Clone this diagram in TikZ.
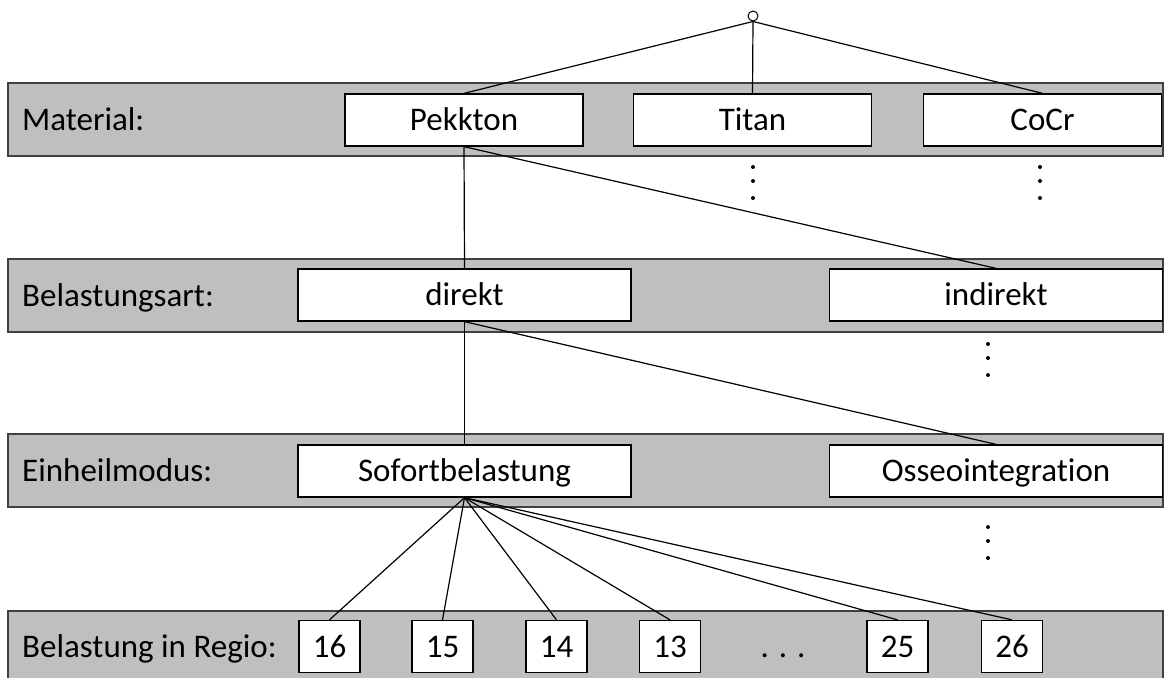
\documentclass[tikz,border=0pt]{standalone}
\usepackage{fontspec}
\setmainfont{Carlito}[Ligatures=NoCommon]
\usepackage{xcolor}
\usepackage{tikz}
\usetikzlibrary{positioning}
\definecolor{band-grau}{HTML}{BFBFBF}
\definecolor{band-rand}{HTML}{404040}

\begin{document}
\begin{tikzpicture}[x=1pt, y=-1pt, font=\fontsize{33}{40}\selectfont,
    band/.style={fill=band-grau, draw=band-rand, line width=1.6pt},
    wahl/.style={draw, fill=white, line width=1.3pt, minimum height=52pt, inner sep=0pt,
                 text height=21pt, text depth=0pt},
    regio/.style={wahl, minimum width=61pt},
    ebene/.style={anchor=west, inner sep=0pt, text height=21pt, text depth=0pt}]

    \clip (0,0) rectangle (1164,677);

    % levels
    \draw[band] (8,83) rectangle (1163,156);
    \draw[band] (8,259) rectangle (1163,332);
    \draw[band] (8,434) rectangle (1163,507);
    \draw[band] (8,611) rectangle (1163,700);

    \node[ebene] (l1) at (22,120) {Material:};
    \node[ebene] (l2) at (22,296) {Belastungsart:};
    \node[ebene] (l3) at (22,471) {Einheilmodus:};
    \node[ebene] (l4) at (22,647) {Belastung in Regio:};

    % root
    \node[circle, draw, fill=white, line width=1pt, minimum size=10pt, inner sep=0pt] (root) at (753,16) {};

    % options
    \begin{scope}[every node/.style={wahl, minimum width=238pt}]
        \node (pek) at (464,120) {Pekkton};
        \node (tit) at (752.5,120) {Titan};
        \node (cocr) at (1042.5,120) {CoCr};
    \end{scope}

    \begin{scope}[every node/.style={wahl, minimum width=333pt}]
        \node (dir) at (464.5,295) {direkt};
        \node (indir) at (996,295) {indirekt};
        \node (sof) at (464.5,471) {Sofortbelastung};
        \node (oss) at (996,471) {Osseointegration};
    \end{scope}

    \begin{scope}[every node/.style={regio}]
        \node (r16) at (329.5,646.5) {16};
        \node (r15) at (442.5,646.5) {15};
        \node (r14) at (556.5,646.5) {14};
        \node (r13) at (670,646.5) {13};
        \node (r25) at (897.5,646.5) {25};
        \node (r26) at (1012,646.5) {26};
    \end{scope}
    \node[text height=21pt, text depth=0pt, inner sep=0pt] (weiter) at (783,646.5) {. . .};

    % edges
    \begin{scope}[every edge/.style={draw, line width=1.2pt}]
        \path (root.south) edge (pek.north);
        \path (root.south) edge (tit.north);
        \path (root.south) edge (cocr.north);
        \path (pek.south) edge (dir.north);
        \path (pek.south) edge (indir.north);
        \path (dir.south) edge (sof.north);
        \path (dir.south) edge (oss.north);
        \foreach \r in {r16,r15,r14,r13,r25,r26}
            \path (sof.south) edge (\r.north);
    \end{scope}

    % vertical dots
    \foreach \x/\y in {753/167, 1040/167, 988/344, 988/527}
        \foreach \d in {0,14,31}
            \fill (\x,\y+\d) circle (2pt);

\end{tikzpicture}
\end{document}
